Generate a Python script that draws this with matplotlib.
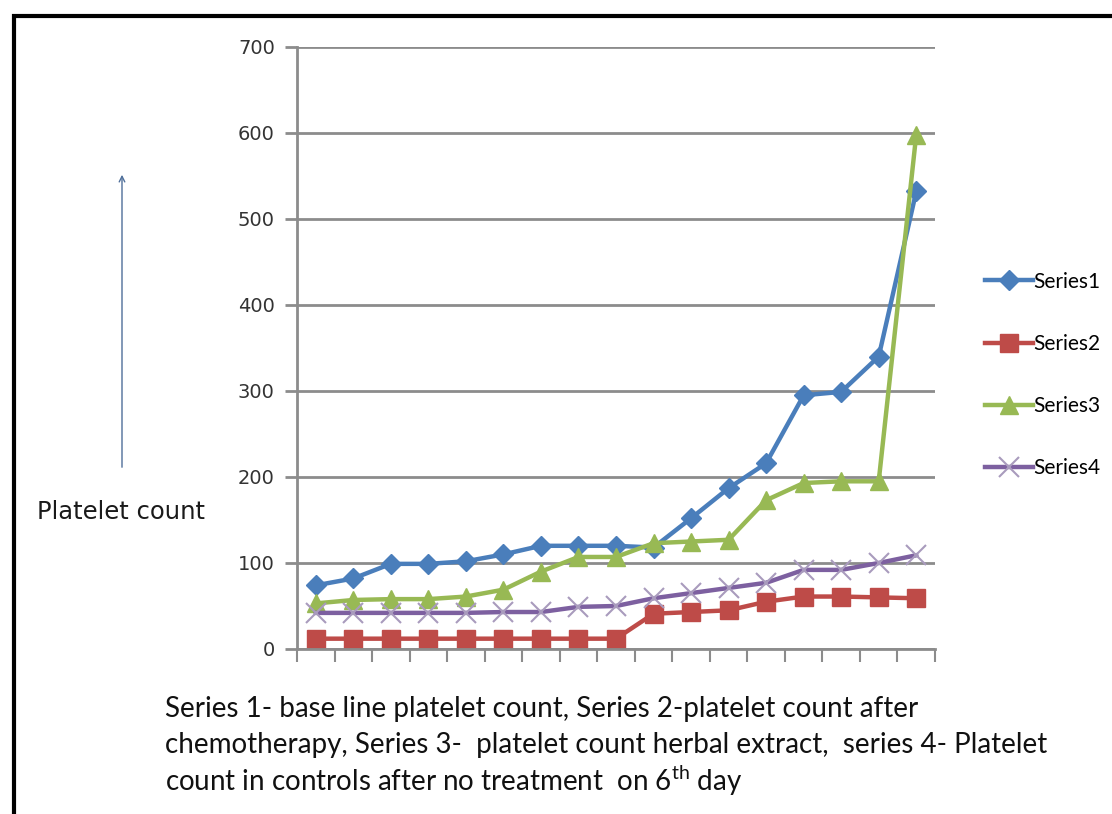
import matplotlib.pyplot as plt
import numpy as np
from matplotlib.patches import Rectangle

# values (17 subjects)
series1 = [74, 82, 99, 99, 102, 110, 120, 120, 120, 118, 152, 187, 216, 295, 299, 340, 532]
series2 = [12, 12, 12, 12, 12, 12, 12, 12, 12, 41, 43, 45, 55, 61, 61, 60, 59]
series3 = [53, 57, 58, 58, 61, 69, 90, 107, 107, 123, 125, 127, 173, 193, 195, 195, 598]
series4 = [42, 42, 42, 42, 42, 43, 43, 49, 50, 59, 65, 71, 77, 92, 92, 100, 109]
names = ["Series1", "Series2", "Series3", "Series4"]
y_ticks = [0, 100, 200, 300, 400, 500, 600, 700]

caption_lines = [
    "Series 1- base line platelet count, Series 2-platelet count after",
    "chemotherapy, Series 3-  platelet count herbal extract,  series 4- Platelet",
    "count in controls after no treatment  on 6$^{\\mathrm{th}}$ day",
]

plt.rcParams["mathtext.fontset"] = "custom"
plt.rcParams["mathtext.rm"] = "Lato"

W, H = 1112, 814
fig = plt.figure(figsize=(W / 100, H / 100), dpi=100)
ax = fig.add_axes([297 / W, 1 - 649 / H, (935 - 297) / W, (649 - 47) / H])

x = np.arange(len(series1))
styles = [
    dict(color="#4A7EBB", marker="D", markersize=10, mec="#4A7EBB"),
    dict(color="#BE4B48", marker="s", markersize=13, mec="#BE4B48"),
    dict(color="#98B954", marker="^", markersize=13, mec="#98B954"),
    dict(color="#7D60A0", marker="x", markersize=14, mec="#A99BBD", mew=1.5),
]
for vals, name, st in zip([series1, series2, series3, series4], names, styles):
    ax.plot(x, vals, lw=3.2, label=name, **st)

ax.set_xlim(-0.5, len(series1) - 0.5)
ax.set_ylim(0, 700)
ax.set_yticks(y_ticks)
ax.set_xticks(np.arange(-0.5, len(series1)))
ax.set_xticklabels([])
ax.yaxis.grid(True, color="#8C8C8C", lw=2)
ax.set_axisbelow(True)
for s in ["top", "right"]:
    ax.spines[s].set_visible(False)
for s in ["left", "bottom"]:
    ax.spines[s].set_color("#8C8C8C")
    ax.spines[s].set_linewidth(2)
ax.tick_params(axis="y", length=9, width=2, color="#8C8C8C", direction="out",
               labelsize=14, labelcolor="#333333", pad=7)
ax.tick_params(axis="x", length=9, width=1.5, color="#8C8C8C", direction="out")
for lab in ax.get_yticklabels():
    lab.set_family("DejaVu Sans")

leg = ax.legend(loc="center left", bbox_to_anchor=(966 / W, 1 - 375 / H),
                bbox_transform=fig.transFigure, frameon=False, handlelength=2.3,
                handletextpad=0.05, labelspacing=2.03, prop={"family": "Lato", "size": 15})

fig.text(37 / W, 1 - 512 / H, "Platelet count", fontsize=17.5, family="DejaVu Sans",
         va="center", ha="left", color="#1a1a1a")
ax.annotate("", xy=(122 / W, 1 - 172 / H), xytext=(122 / W, 1 - 470 / H),
            xycoords="figure fraction", textcoords="figure fraction",
            arrowprops=dict(arrowstyle="->", color="#4F6F9A", lw=1))

for i, line in enumerate(caption_lines):
    fig.text(165 / W, 1 - (707 + 35 * i) / H, line, fontsize=20, family="Lato",
             va="center_baseline", ha="left", color="#111111")

fig.add_artist(Rectangle((14 / W, -0.05), 1.2, 1 - 16 / H + 0.05, transform=fig.transFigure,
                         fill=False, edgecolor="black", lw=3))

fig.savefig("out.png", dpi=100)
